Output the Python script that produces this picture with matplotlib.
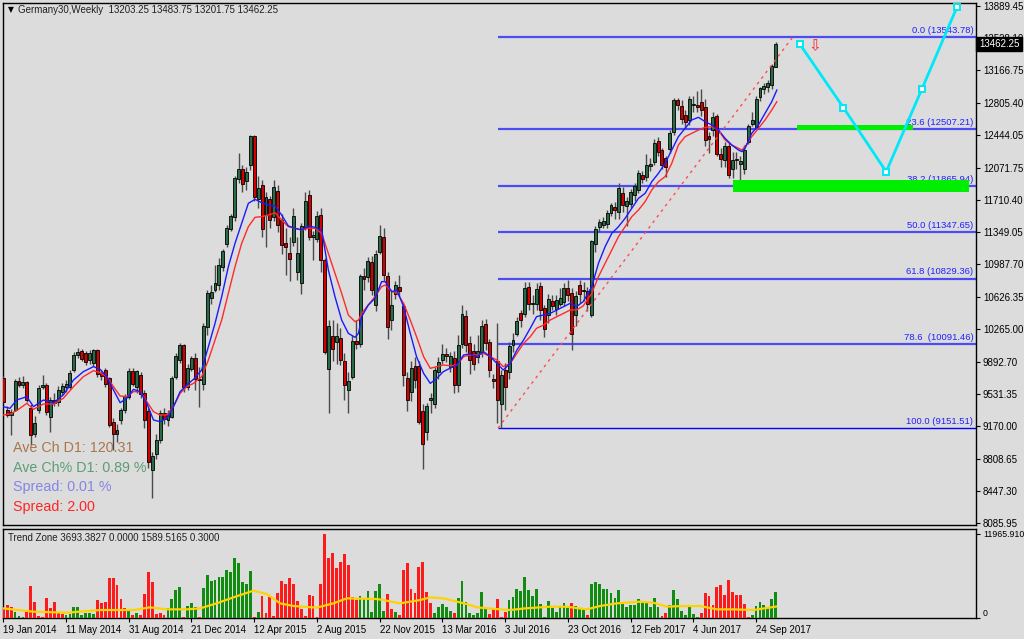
import numpy as np
import matplotlib
matplotlib.use("Agg")
import matplotlib.pyplot as plt
import matplotlib.transforms as mtransforms

plt.rcParams['font.family'] = ['Liberation Sans', 'DejaVu Sans']

# weekly candles, Germany30 (Jan 2014 - Oct 2017)
opens = [9710, 9354, 9298, 9354, 9672, 9640, 9660, 9370, 9092, 9354, 9616, 9635, 9279, 9466, 9450, 9560, 9616, 9616, 9803, 9972,
         10010, 9990, 9915, 9890, 10020, 9766, 9800, 9710, 9220, 9092, 9242, 9354, 9504, 9785, 9616, 9747, 9541, 9336, 8680, 8868,
         9017, 9317, 9250, 9279, 9728, 9915, 10080, 9616, 9822, 9935, 9700, 9653, 10290, 10620, 10709, 10760, 10960, 11225, 11393, 11524,
         11955, 12056, 11928, 12104, 12423, 11730, 11880, 11543, 11719, 11524, 11805, 11487, 11225, 11113, 11244, 10907, 10784, 11412, 11768, 11300,
         11281, 11543, 11038, 9822, 10177, 10119, 10158, 9900, 9579, 9728, 10121, 10103, 10851, 10850, 11010, 10533, 11131, 11289, 10851, 10364,
         10664, 10730, 10514, 9710, 9560, 9841, 9841, 9336, 9111, 9470, 9430, 9785, 9922, 9983, 9841, 9935, 9635, 10103, 10410, 10103,
         10009, 9953, 10009, 10320, 10110, 9700, 9900, 9430, 9803, 9785, 10084, 10215, 10439, 10439, 10730, 10544, 10544, 10746, 10495, 10420,
         10570, 10495, 10551, 10570, 10720, 10664, 10420, 10757, 10700, 10682, 10420, 11225, 11412, 11431, 11450, 11569, 11635, 11580, 11786, 11644,
         11674, 11768, 11824, 11992, 11974, 12100, 12142, 12366, 12270, 12180, 12292, 12479, 12827, 12767, 12666, 12610, 12778, 12770, 12804, 12752,
         12423, 12497, 12655, 12228, 12160, 12318, 12067, 12168, 12123, 12067, 12366, 12572, 12535, 12872, 12965, 12984, 13003, 13203.25]
highs = [9740, 9400, 9370, 9700, 9720, 9740, 9680, 9420, 9290, 9630, 9750, 9660, 9500, 9540, 9620, 9660, 9690, 9800, 10000, 10050,
         10040, 10020, 10030, 10040, 10040, 9800, 9830, 9730, 9260, 9200, 9380, 9530, 9830, 9830, 9800, 9780, 9580, 9380, 8880, 9090,
         9350, 9380, 9350, 9740, 9990, 10110, 10100, 9870, 9960, 9990, 9841, 10330, 10700, 10760, 10980, 11060, 11160, 11430, 11560, 11980,
         12236, 12110, 12080, 12440, 12440, 11980, 11940, 11800, 11760, 11940, 11880, 11560, 11400, 11300, 11620, 11300, 11450, 11800, 11820, 11360,
         11590, 11620, 11060, 10370, 10370, 10330, 10270, 9990, 9780, 10200, 10360, 10880, 10950, 11070, 11080, 11150, 11431, 11400, 10900, 10700,
         10800, 10870, 10560, 9780, 9900, 9950, 9900, 9420, 9430, 9550, 9840, 9950, 10100, 10050, 10000, 10020, 10200, 10533, 10480, 10180,
         10100, 10200, 10370, 10380, 10150, 9760, 10334, 9800, 9880, 10120, 10220, 10400, 10480, 10790, 10790, 10640, 10780, 10790, 10530, 10660,
         10640, 10640, 10720, 10780, 10810, 10720, 10690, 10810, 10790, 10740, 11260, 11420, 11500, 11520, 11600, 11680, 11690, 11900, 11860, 11740,
         11840, 11900, 12050, 12040, 12230, 12180, 12400, 12420, 12300, 12200, 12500, 12860, 12860, 12830, 12720, 12880, 12880, 12930, 12954, 12850,
         12480, 12700, 12680, 12300, 12360, 12360, 12250, 12250, 12200, 12330, 12560, 12700, 12880, 12980, 13030, 13060, 13240, 13483.75]
lows = [9430, 9270, 9075, 9340, 9610, 9600, 9440, 8960, 9050, 9320, 9590, 9300, 9110, 9400, 9400, 9520, 9560, 9590, 9780, 9940,
        9900, 9860, 9870, 9850, 9730, 9690, 9610, 9160, 8905, 9000, 9200, 9320, 9480, 9620, 9550, 9490, 9150, 8700, 8363, 8800,
        8980, 9200, 9180, 9260, 9700, 9880, 9560, 9580, 9790, 9580, 9392, 9580, 10200, 10540, 10680, 10700, 10920, 11180, 11360, 11480,
        11900, 11800, 11820, 12050, 11700, 11620, 11300, 11180, 11400, 11480, 11350, 11100, 10870, 10800, 11200, 10810, 10660, 11380, 11260, 11038,
        11240, 10900, 9980, 9316, 9900, 9870, 9860, 9470, 9316, 9700, 10040, 10060, 10700, 10790, 10640, 10460, 11100, 10800, 10150, 10250,
        10600, 10630, 9620, 9340, 9450, 9600, 9200, 8688, 9020, 9320, 9380, 9700, 9870, 9890, 9780, 9540, 9560, 10050, 10000, 9760,
        9800, 9880, 9950, 10030, 9720, 9600, 9204, 9151, 9350, 9700, 10000, 10180, 10290, 10400, 10480, 10430, 10480, 10370, 10170, 10330,
        10480, 10420, 10520, 10520, 10580, 10030, 10300, 10560, 10580, 10470, 10400, 11130, 11360, 11400, 11400, 11530, 11500, 11500, 11580, 11420,
        11620, 11700, 11790, 11900, 11920, 12040, 12100, 12200, 12060, 11970, 12240, 12440, 12720, 12560, 12520, 12550, 12700, 12700, 12650, 12320,
        12240, 12430, 12200, 12080, 12080, 11960, 11960, 12060, 11880, 12000, 12340, 12540, 12520, 12820, 12900, 12920, 12960, 13201.75]
closes = [9448, 9298, 9330, 9672, 9640, 9660, 9466, 9073, 9205, 9597, 9635, 9336, 9466, 9440, 9579, 9616, 9640, 9766, 9972, 10000,
          9930, 9900, 9990, 10020, 9766, 9735, 9653, 9186, 9092, 9130, 9354, 9504, 9785, 9653, 9785, 9541, 9242, 8774, 8830, 9017,
          9317, 9260, 9290, 9710, 9953, 10080, 9616, 9822, 9935, 9700, 9690, 10290, 10664, 10680, 10776, 10982, 11131, 11393, 11524, 11955,
          12056, 11899, 12018, 12430, 11749, 11842, 11394, 11741, 11487, 11850, 11431, 11206, 11190, 11057, 11524, 11113, 11412, 11700, 11300, 11318,
          11524, 11038, 10009, 10290, 10046, 10177, 9923, 9635, 9672, 10121, 10103, 10851, 10830, 11019, 10701, 11101, 11300, 10870, 10290, 10533,
          10757, 10690, 9747, 9466, 9822, 9691, 9224, 8980, 9392, 9490, 9803, 9890, 9983, 9960, 9953, 9635, 10084, 10432, 10084, 9915,
          9878, 10009, 10297, 10110, 9803, 9685, 9466, 9747, 9616, 10065, 10140, 10345, 10364, 10720, 10544, 10555, 10710, 10485, 10271, 10600,
          10521, 10589, 10607, 10720, 10645, 10215, 10626, 10664, 10690, 10552, 11244, 11382, 11457, 11468, 11562, 11655, 11605, 11843, 11655, 11693,
          11794, 11861, 12011, 11955, 12104, 12110, 12348, 12254, 12104, 12086, 12460, 12834, 12778, 12628, 12591, 12842, 12790, 12755, 12722, 12385,
          12404, 12640, 12235, 12180, 12310, 11992, 12160, 12160, 12150, 12273, 12535, 12610, 12842, 12965, 12990, 13021, 13216, 13462.25]

# moving averages (bar position, price)
ma_pos = [0, 1.7, 3.4, 6, 7.7, 10.2, 12.8, 15.3, 17.9, 20.4, 23, 24.7, 26.4, 28.1, 29.8, 31.5, 33.2, 34.9, 36.6, 38.3,
          40, 41.7, 43.4, 45.1, 46.8, 48.5, 50.6, 52.3, 54, 55.7, 57.4, 59.1, 60.8, 62.5, 64.2, 65.9, 67.6, 69.3, 71, 72.7,
          74.4, 76.1, 77.8, 79.5, 81.2, 82.9, 84.6, 86.3, 88, 89.7, 90.6, 91.4, 93.1, 94.8, 96.5, 97.4, 99.1, 100.4, 102.1, 103.8,
          105.4, 107.2, 108.9, 110.6, 112.2, 113.9, 115.7, 117.4, 119, 120.8, 122.5, 124.2, 125.9, 127.5, 129.3, 131, 132.7, 134.4, 136, 137.8,
          139.5, 141.2, 142.9, 144.6, 146.2, 147.9, 150.1, 151.8, 153.5, 155.2, 156.9, 158.6, 160.3, 162, 163.7, 165.4, 167.1, 168.8, 170.5, 172.2,
          173.9, 175.6, 177.3, 179, 180.7, 182.4, 184.1, 185.8, 187.5, 188.4, 189.2, 190.9, 192.6, 194.3, 196, 197.3]
ma_blue = [9392, 9373, 9466, 9504, 9392, 9466, 9436, 9523, 9691, 9784, 9841, 9811, 9728, 9579, 9436, 9485, 9586, 9560, 9429, 9242,
           9223, 9261, 9392, 9560, 9635, 9698, 9803, 10065, 10327, 10626, 10963, 11225, 11450, 11674, 11719, 11682, 11655, 11644, 11543, 11420,
           11394, 11375, 11420, 11405, 11375, 10926, 10626, 10364, 10215, 10170, 10215, 10402, 10533, 10608, 10795, 10795, 10683, 10701, 10514, 10215,
           9953, 9766, 9653, 9710, 9784, 9822, 9859, 9972, 9983, 9953, 10009, 9953, 9878, 9803, 9878, 10028, 10140, 10271, 10402, 10421,
           10439, 10477, 10514, 10552, 10514, 10570, 10739, 11001, 11188, 11337, 11412, 11506, 11618, 11730, 11786, 11917, 12011, 12123, 12273, 12423,
           12516, 12610, 12640, 12591, 12554, 12497, 12404, 12329, 12273, 12254, 12292, 12460, 12554, 12685, 12815, 12946]
ma_red = [9298, 9309, 9347, 9429, 9362, 9421, 9421, 9485, 9616, 9728, 9796, 9773, 9728, 9616, 9511, 9504, 9560, 9560, 9448, 9335,
          9298, 9298, 9392, 9541, 9616, 9653, 9728, 9915, 10140, 10364, 10664, 10963, 11225, 11412, 11517, 11525, 11543, 11569, 11487, 11412,
          11394, 11375, 11394, 11394, 11337, 11113, 10888, 10664, 10421, 10346, 10364, 10439, 10533, 10627, 10739, 10757, 10683, 10671, 10552, 10364,
          10177, 9953, 9822, 9841, 9859, 9852, 9859, 9953, 9972, 9972, 9990, 9953, 9915, 9841, 9878, 9990, 10102, 10177, 10271, 10308,
          10364, 10402, 10439, 10477, 10477, 10522, 10664, 10851, 11001, 11150, 11300, 11412, 11524, 11599, 11693, 11824, 11917, 11974, 12123, 12329,
          12423, 12460, 12497, 12527, 12535, 12497, 12385, 12329, 12292, 12273, 12310, 12423, 12516, 12610, 12722, 12815]

# Trend Zone histogram (1 = green, 0 = red)
tz_vals = [1336, 1813, 1479, 763, 239, 143, 1097, 4532, 2290, 239, 143, 2862, 1336, 2290, 620, 477, 382, 477, 1574, 1479,
           382, 716, 620, 477, 2480, 2051, 2290, 5676, 5676, 4675, 2671, 1431, 954, 382, 620, 382, 3387, 6487, 5152, 525,
           620, 382, 1336, 2671, 3959, 4341, 143, 1670, 2147, 1479, 143, 4198, 6106, 5295, 5390, 5867, 5867, 6821, 6487, 8491,
           7871, 5152, 4818, 6726, 143, 811, 3101, 620, 2910, 239, 3578, 5247, 4818, 5629, 4818, 2385, 1193, 239, 3244, 3101,
           143, 4818, 11966, 8491, 9302, 7060, 8014, 9063, 7537, 3005, 2528, 3101, 2767, 3816, 763, 3816, 4818, 954, 3387, 1193,
           763, 382, 6821, 7775, 4102, 3482, 7203, 7918, 3721, 2051, 620, 1479, 1956, 1479, 1002, 620, 2862, 5247, 2290, 716,
           382, 716, 3625, 1336, 477, 1336, 2624, 143, 860, 2528, 3005, 4102, 3816, 5772, 3959, 3101, 4102, 1908, 143, 2433,
           1336, 859, 1479, 2147, 1336, 2147, 1670, 1193, 1193, 382, 4818, 5056, 4818, 4055, 4102, 3578, 2862, 3959, 1956, 1479,
           1813, 1813, 2624, 2051, 2194, 1479, 2767, 1479, 239, 620, 1813, 3959, 2671, 954, 382, 1479, 477, 143, 620, 3578,
           3101, 1813, 4436, 4675, 3244, 5390, 3721, 3244, 3244, 1908, 143, 382, 1717, 2194, 1813, 1336, 2671, 3693]
tz_up = [0, 0, 0, 1, 1, 1, 0, 0, 0, 0, 0, 0, 0, 0, 0, 0, 1, 1, 1, 1,
         1, 1, 1, 1, 0, 0, 0, 0, 0, 0, 0, 0, 1, 0, 1, 0, 0, 0, 0, 0,
         0, 0, 1, 1, 1, 1, 0, 1, 1, 1, 0, 1, 1, 1, 1, 1, 1, 1, 1, 1,
         1, 1, 1, 1, 0, 1, 0, 0, 0, 0, 0, 0, 0, 0, 0, 0, 0, 0, 0, 0,
         0, 0, 0, 0, 0, 0, 0, 0, 0, 0, 0, 1, 1, 1, 1, 1, 1, 1, 0, 0,
         1, 0, 0, 0, 0, 0, 0, 0, 0, 0, 1, 1, 1, 1, 1, 0, 1, 1, 1, 1,
         1, 1, 1, 1, 0, 0, 0, 0, 0, 1, 1, 1, 1, 1, 1, 1, 1, 1, 1, 1,
         1, 1, 1, 1, 1, 0, 1, 1, 1, 0, 1, 1, 1, 1, 1, 1, 1, 1, 1, 1,
         1, 1, 1, 1, 1, 1, 1, 1, 0, 0, 1, 1, 1, 1, 1, 1, 1, 1, 0, 0,
         0, 0, 0, 0, 0, 0, 0, 0, 0, 0, 0, 1, 1, 1, 1, 1, 1, 1]
tz_sig_pos = [0, 7.7, 16.2, 24.7, 33.2, 37.4, 41.7, 46.8, 50.2, 54.4, 58.7, 63.8, 67.2, 70.6, 74, 79.9, 84.2, 87.6, 95.2, 96.9,
              101.2, 106.3, 108.9, 112.3, 118.2, 120.8, 126.7, 129.3, 133.1, 139.5, 143.7, 148.8, 152.2, 156.5, 162.4, 165.8, 169.2, 173.5, 177.7, 182,
              186.2, 191.3, 197.1]
tz_sig = [1336, 859, 716, 1097, 1097, 1479, 1193, 1193, 1336, 2051, 2910, 3864, 3387, 2051, 1670, 1431, 2051, 2767, 2671, 2528,
          2051, 2528, 2910, 2767, 1956, 1479, 1193, 1097, 1336, 1574, 1574, 1193, 1670, 2051, 2290, 2147, 1574, 1670, 1670, 1193,
          1193, 1097, 1589]

date_labels = ['19 Jan 2014', '11 May 2014', '31 Aug 2014', '21 Dec 2014', '12 Apr 2015', '2 Aug 2015', '22 Nov 2015',
               '13 Mar 2016', '3 Jul 2016', '23 Oct 2016', '12 Feb 2017', '4 Jun 2017', '24 Sep 2017']
price_ticks = [13889.45, 13528.10, 13166.75, 12805.40, 12444.05, 12071.75, 11710.40, 11349.05, 10987.70,
               10626.35, 10265.00, 9892.70, 9531.35, 9170.00, 8808.65, 8447.30, 8085.95]

fib_levels = [0.0, 23.6, 38.2, 50.0, 61.8, 78.6, 100.0]
fib_prices = [13543.78, 12507.21, 11865.94, 11347.65, 10829.36, 10091.46, 9151.51]
fib_start = 126.2
trend_pos = [126.2, 201.4]
trend_price = [9151.51, 13543.78]
path_pos = [203.2, 214.3, 225.2, 234.3, 243.3]
path_price = [13459, 12748, 12029, 12958, 13882]

bg = '#dcdcdc'
fig = plt.figure(figsize=(10.24, 6.39), dpi=100, facecolor=bg)
ax = fig.add_axes([3 / 1024, 1 - 525 / 639, 973 / 1024, 522 / 639], facecolor=bg)
ax2 = fig.add_axes([3 / 1024, 1 - 617.7 / 639, 973 / 1024, 88.7 / 639], facecolor=bg)

n = len(closes)
idx = np.arange(n)
o = np.array(opens)
c = np.array(closes)
up = c >= o

# candles
ax.vlines(idx, lows, highs, color='#4a4a4a', lw=1, zorder=3)
ax.bar(idx, np.abs(c - o) + 6, bottom=np.minimum(o, c) - 3, width=0.75,
       color=np.where(up, '#2a6b46', '#d40000'), edgecolor='black', lw=0.6, zorder=4)

ax.plot(ma_pos, ma_red, color='#ff2a2a', lw=1, zorder=5)
ax.plot(ma_pos, ma_blue, color='#1a1aff', lw=1, zorder=5)

# fibonacci levels
for lev, p in zip(fib_levels, fib_prices):
    lw = 1.0 if lev == 100.0 else 1.6
    col = '#0000ff' if lev == 100.0 else '#4c4cf5'
    ax.hlines(p, fib_start, 248.1, color=col, lw=lw, zorder=2)
    gap = '  ' if lev == 78.6 else ' '
    ax.text(247.4, p + 25, '%.1f%s(%.2f)' % (lev, gap, p), color='#2020ff', fontsize=6.8,
            ha='right', va='bottom', zorder=6)

ax.plot(trend_pos, trend_price, color='#ff4d4d', lw=1, ls=(0, (2, 3)), zorder=6)

# zones and projected path
ax.fill_between([202.4, 232.1], 12497, 12557, color='#00ee00', lw=0, zorder=6)
ax.fill_between([186.2, 246.3], 11798, 11936, color='#00ee00', lw=0, zorder=6)
ax.plot(path_pos, path_price, color='#00e8f8', lw=2, zorder=7, marker='s', ms=4.5,
        mfc='white', mec='#00e8f8', mew=1.4)
ax.text(207.1, 13448, '\u21e9', color='#ff2020', fontsize=11, ha='center', va='center',
        family='DejaVu Sans', zorder=7)

ax.set_xlim(-0.08, 248.1)
ax.set_ylim(8063.1, 13923.1)
ax.set_xticks([])
ax.yaxis.tick_right()
ax.set_yticks(price_ticks)
ax.set_yticklabels(['%.2f' % v for v in price_ticks])
ax.tick_params(axis='y', length=3, width=0.8, labelsize=7, pad=2, colors='black')
for s in ax.spines.values():
    s.set_color('black')
    s.set_linewidth(1)

# current price tag
tr = mtransforms.blended_transform_factory(ax.transAxes, ax.transData)
ax.text(1.003, 13462.25, '13462.25', transform=tr, color='white', fontsize=7, va='center', ha='left',
        bbox=dict(boxstyle='square,pad=0.25', fc='black', ec='black'), zorder=10, clip_on=False)

ax.text(0.005, 0.9866, '\u25bc', transform=ax.transAxes, fontsize=5.5, va='center', ha='left', family='DejaVu Sans')
ax.text(0.0154, 0.9866, 'Germany30,Weekly  13203.25 13483.75 13201.75 13462.25', transform=ax.transAxes,
        fontsize=7, va='center', ha='left', color='#202020')

info = [('Ave Ch D1: 120.31', '#a8764c'), ('Ave Ch% D1: 0.89 %', '#5c9e72'),
        ('Spread: 0.01 %', '#8585e6'), ('Spread: 2.00', '#ff2424')]
for k, (txt, col) in enumerate(info):
    ax.text(0.0103, 0.1475 - k * 0.0377, txt, transform=ax.transAxes, color=col, fontsize=10.3,
            va='center', ha='left', zorder=8)

# Trend Zone panel
ax2.bar(idx, tz_vals, width=0.72, color=np.where(np.array(tz_up) == 1, '#118c11', '#ff1a1a'), lw=0, zorder=3)
ax2.plot(tz_sig_pos, tz_sig, color='#ffd200', lw=1.6, zorder=4)
ax2.set_xlim(-0.08, 248.1)
ax2.set_ylim(0, 12680)
ax2.yaxis.tick_right()
ax2.set_yticks([0, 11965.91])
ax2.set_yticklabels(['0', '11965.910'])
ax2.tick_params(axis='y', length=3, width=0.8, labelsize=6.3, pad=2)
ax2.get_yticklabels()[0].set_va('bottom')
ax2.set_xticks(range(0, 16 * len(date_labels), 16))
ax2.set_xticklabels(date_labels, ha='left')
ax2.tick_params(axis='x', length=3, width=0.8, labelsize=7, pad=2)
ax2.text(0.005, 0.9, 'Trend Zone 3693.3827 0.0000 1589.5165 0.3000', transform=ax2.transAxes,
         fontsize=7, va='center', ha='left', color='#202020')
for s in ax2.spines.values():
    s.set_color('black')
    s.set_linewidth(1)

fig.savefig('out.png', dpi=100, facecolor=bg)
